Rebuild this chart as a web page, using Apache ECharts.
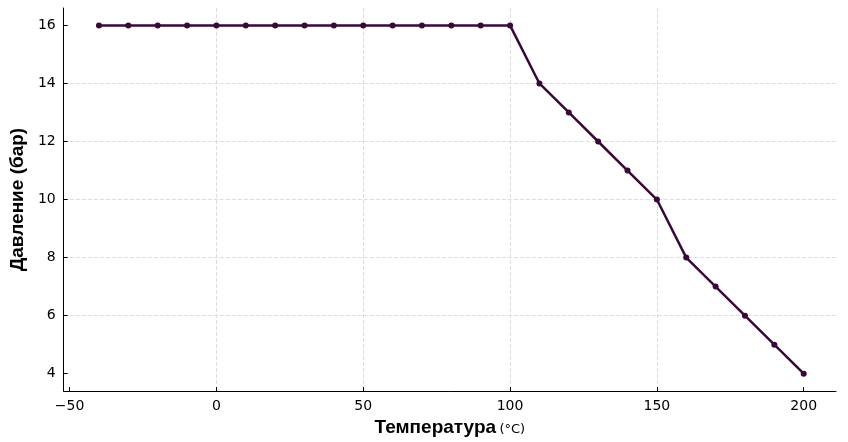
<!DOCTYPE html>
<html><head><meta charset="utf-8">
<script src="https://cdn.jsdelivr.net/npm/echarts@6/dist/echarts.min.js"></script>
<style>html,body{margin:0;background:#fff}#c{width:848px;height:442px}</style>
</head><body><div id="c"></div>
<script>
var temps = [-40,-30,-20,-10,0,10,20,30,40,50,60,70,80,90,100,110,120,130,140,150,160,170,180,190,200];
var pressure = [16,16,16,16,16,16,16,16,16,16,16,16,16,16,16,14,13,12,11,10,8,7,6,5,4];
var xTicks = [-50,0,50,100,150,200];
var yTicks = [4,6,8,10,12,14,16];

var chart = echarts.init(document.getElementById('c'));
var pts = temps.map(function(t,i){ return [t, pressure[i]]; });
chart.setOption({
    animation: false,
    grid: { left: 51, right: 12, top: 8, bottom: 42 },
    xAxis: {
        type: 'value', min: -52, max: 211, interval: 50,
        name: '{b|Температура} {s|(°C)}', nameLocation: 'middle', nameGap: 24,
        nameTextStyle: { rich: {
            b: { fontSize: 19, fontWeight: 'bold', color: '#000', fontFamily: 'Liberation Sans' },
            s: { fontSize: 13, color: '#000', fontFamily: 'DejaVu Sans', padding: [4,0,0,0] } } },
        axisLine: { onZero: false, lineStyle: { color: '#000' } },
        axisTick: { inside: true, length: 4, customValues: xTicks },
        axisLabel: { color: '#000', fontSize: 14, fontFamily: 'DejaVu Sans', customValues: xTicks,
            formatter: function(v){ return v < 0 ? '\u2212' + (-v) : v; } },
        splitLine: { show: true, showMinLine: false, showMaxLine: false, lineStyle: { color: '#ddd', type: 'dashed' } }
    },
    yAxis: {
        type: 'value', min: 3.4, max: 16.6, interval: 2,
        name: 'Давление (бар)', nameLocation: 'middle', nameGap: 30,
        nameTextStyle: { fontSize: 19, fontWeight: 'bold', color: '#000', fontFamily: 'Liberation Sans' },
        axisLine: { show: true, onZero: false, lineStyle: { color: '#000' } },
        axisTick: { show: true, inside: true, length: 4, customValues: yTicks },
        axisLabel: { color: '#000', fontSize: 14, fontFamily: 'DejaVu Sans', customValues: yTicks },
        splitLine: { show: true, showMinLine: false, showMaxLine: false, lineStyle: { color: '#ddd', type: 'dashed' } }
    },
    series: [{
        type: 'line', data: pts,
        symbol: 'circle', symbolSize: 6,
        lineStyle: { color: '#3a0838', width: 2.5 },
        itemStyle: { color: '#3a0838' }
    }]
});
</script></body></html>
